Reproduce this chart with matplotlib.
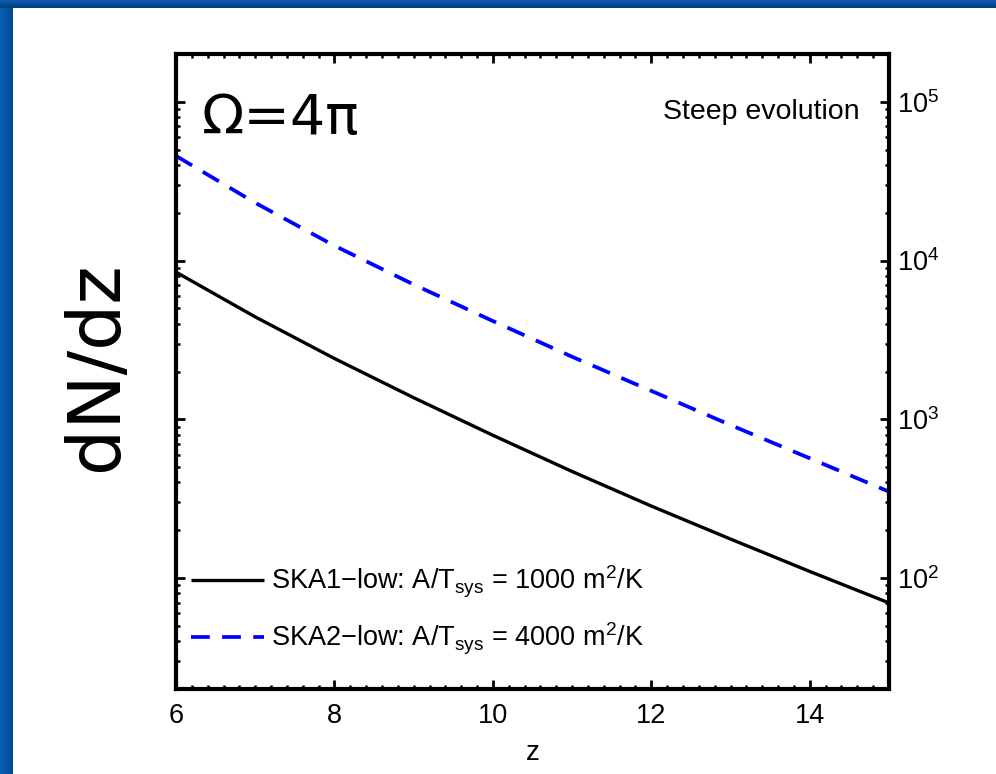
import numpy as np
import matplotlib
matplotlib.use("Agg")
import matplotlib.pyplot as plt
from matplotlib.ticker import MultipleLocator, LogLocator, NullFormatter, FixedLocator

plt.rcParams['font.family'] = ['Liberation Sans', 'DejaVu Sans']
plt.rcParams['mathtext.fontset'] = 'custom'
plt.rcParams['mathtext.rm'] = 'Liberation Sans'
plt.rcParams['mathtext.it'] = 'Liberation Sans:italic'
plt.rcParams['mathtext.bf'] = 'Liberation Sans:bold'

# Redshift grid and number counts per unit redshift
z = [6, 7, 8, 9, 10, 11, 12, 13, 14, 15]
dndz_ska1 = [8453, 4416, 2415, 1368, 793, 469, 284, 176, 110, 69.7]
dndz_ska2 = [45600, 23100, 12400, 7063, 4159, 2477, 1510, 920, 568, 350]

label_ska1 = r"SKA1−low: A/T$_{\mathrm{sys}}$ = 1000 m$^{2}$/K"
label_ska2 = r"SKA2−low: A/T$_{\mathrm{sys}}$ = 4000 m$^{2}$/K"
x_ticks = [6, 8, 10, 12, 14]
y_ticks = [1e2, 1e3, 1e4, 1e5]

W, H = 996, 774
fig = plt.figure(figsize=(W / 100, H / 100), dpi=100, facecolor='white')

# slide frame: blue strip on the left and along the top
left_strip = fig.add_axes([0, 0, 12 / W, 1])
grad = np.linspace(0, 1, 64)[None, :]
left_cols = np.array([[0.03, 0.38, 0.72], [0.00, 0.29, 0.56]])
img = left_cols[0] + (left_cols[1] - left_cols[0]) * grad[..., None]
left_strip.imshow(img, aspect='auto', extent=[0, 1, 0, 1])
left_strip.set_axis_off()

top_strip = fig.add_axes([0, 1 - 8 / H, 1, 8 / H])
gradv = np.linspace(0, 1, 32)[:, None]
top_cols = np.array([[0.04, 0.36, 0.68], [0.00, 0.24, 0.48]])
imgv = top_cols[0] + (top_cols[1] - top_cols[0]) * gradv[..., None]
top_strip.imshow(imgv, aspect='auto', extent=[0, 1, 0, 1])
top_strip.set_axis_off()

ax = fig.add_axes([176 / W, 1 - 689 / H, (889 - 176) / W, (689 - 54) / H])

ax.plot(z, dndz_ska1, color='black', lw=2.4, solid_capstyle='butt',
        solid_joinstyle='round', label=label_ska1)
ax.plot(z, dndz_ska2, color='#0000ff', lw=2.7, dashes=(5.0, 3.3), label=label_ska2)

ax.set_yscale('log')
ax.set_xlim(6, 15)
ax.set_ylim(20, 2e5)

ax.xaxis.set_major_locator(FixedLocator(x_ticks))
ax.xaxis.set_minor_locator(MultipleLocator(0.2))
ax.yaxis.set_major_locator(FixedLocator(y_ticks))
ax.yaxis.set_minor_locator(LogLocator(base=10, subs=np.arange(2, 10)))
ax.yaxis.set_minor_formatter(NullFormatter())

ax.yaxis.tick_right()
ax.tick_params(which='both', direction='in', top=True, bottom=True, left=True, right=True,
               labelleft=False, labelright=True, labelsize=19.5, width=2.0, color='black')
ax.tick_params(which='major', length=6.5)
ax.tick_params(which='minor', length=3, width=1.8)
ax.tick_params(axis='x', which='major', pad=10)
ax.tick_params(axis='y', which='major', pad=6)

for sp in ax.spines.values():
    sp.set_linewidth(3.0)

ax.set_xlabel('z', fontsize=20, labelpad=8)

fig.text(96 / W, 1 - 366 / H, 'dN/dz', rotation=90, ha='center', va='center',
         fontsize=52.5, family='DejaVu Sans')
fig.text(202 / W, 1 - 134 / H, 'Ω=4π', ha='left', va='baseline',
         fontsize=40, family='DejaVu Sans')
fig.text(860 / W, 1 - 119 / H, 'Steep evolution', ha='right', va='baseline', fontsize=20.5)

leg = ax.legend(loc='upper left', bbox_to_anchor=(191 / W, 1 - 564 / H),
                bbox_transform=fig.transFigure, frameon=False, fontsize=19.5,
                handlelength=2.7, handletextpad=0.25, labelspacing=0.78,
                borderpad=0, borderaxespad=0)

fig.savefig('out.png', dpi=100, facecolor='white')
